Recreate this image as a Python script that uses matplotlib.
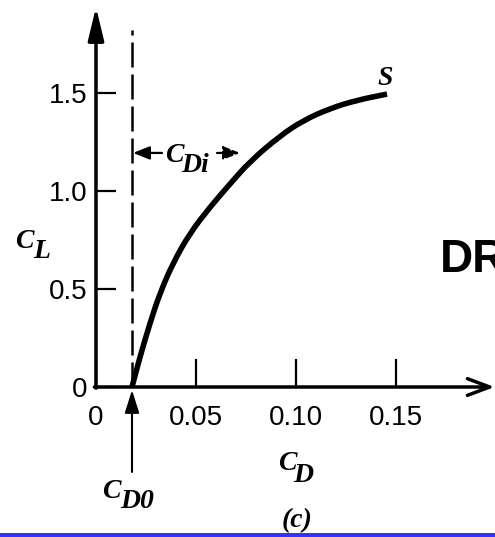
import matplotlib
matplotlib.use('Agg')
import matplotlib.pyplot as plt
from matplotlib.patches import Rectangle, PathPatch
from matplotlib.path import Path

plt.rcParams['font.family'] = ['Liberation Sans', 'DejaVu Sans']

# ---- data ----
cd_curve = [0.018, 0.022, 0.027, 0.032, 0.0385, 0.047, 0.057, 0.067, 0.077,
            0.092, 0.1035, 0.117, 0.1305, 0.1455]
cl_curve = [0.0, 0.154, 0.326, 0.479, 0.632, 0.785, 0.917, 1.035, 1.150,
            1.280, 1.358, 1.420, 1.462, 1.493]
cd0 = 0.018
cdi_level = 1.193
cdi_end = 0.072
dashed_top = 1.82

xticks = [0, 0.05, 0.10, 0.15]
xticklabels = ['0', '0.05', '0.10', '0.15']
yticks = [0, 0.5, 1.0, 1.5]
yticklabels = ['0', '0.5', '1.0', '1.5']

fig = plt.figure(figsize=(4.95, 5.37), dpi=100)
ax = fig.add_axes([0, 0, 1, 1])
ax.set_xlim(-0.048, 0.1995)
ax.set_ylim(-0.7645, 1.9725)

for s in ['top', 'right']:
    ax.spines[s].set_visible(False)
ax.spines['left'].set_position(('data', 0))
ax.spines['bottom'].set_position(('data', 0))
ax.spines['left'].set_visible(False)
ax.spines['bottom'].set_visible(False)

# axes with arrows
ax.annotate('', xy=(0, 1.937), xytext=(0, -0.006), annotation_clip=False,
            arrowprops=dict(arrowstyle='-|>,head_length=1.0,head_width=0.24',
                            mutation_scale=20, lw=2.5, color='black',
                            shrinkA=0, shrinkB=0))
ax.annotate('', xy=(0.1993, 0), xytext=(-0.0008, 0), annotation_clip=False,
            arrowprops=dict(arrowstyle='->,head_length=0.8,head_width=0.3',
                            mutation_scale=20, lw=2.5, color='black',
                            shrinkA=0, shrinkB=0))

ax.set_xticks(xticks, xticklabels)
ax.set_yticks(yticks, yticklabels)
ax.tick_params(axis='x', direction='in', length=20, width=1.6, pad=13,
               labelsize=20, colors='black')
ax.tick_params(axis='y', direction='in', length=14.5, width=1.6, pad=6,
               labelsize=20, colors='black')

# drag polar curve (smooth quadratic path through the read points)
pts = list(zip(cd_curve, cl_curve))
verts = [pts[0], ((pts[0][0] + pts[1][0]) / 2, (pts[0][1] + pts[1][1]) / 2)]
codes = [Path.MOVETO, Path.LINETO]
for i in range(1, len(pts) - 1):
    mid = ((pts[i][0] + pts[i + 1][0]) / 2, (pts[i][1] + pts[i + 1][1]) / 2)
    verts += [pts[i], mid]
    codes += [Path.CURVE3, Path.CURVE3]
verts.append(pts[-1])
codes.append(Path.LINETO)
ax.add_patch(PathPatch(Path(verts, codes), fill=False, lw=4, edgecolor='black',
                       capstyle='butt', joinstyle='round'))

# dashed line at CD0
ax.plot([cd0, cd0], [0, dashed_top], color='black', lw=1.8, dashes=(10, 2.8))

# CD0 arrow
ax.annotate('', xy=(cd0, -0.015), xytext=(cd0, -0.433),
            arrowprops=dict(arrowstyle='-|>,head_length=0.7,head_width=0.22',
                            mutation_scale=20, lw=1.5, color='black',
                            shrinkA=0, shrinkB=0))

# CDi arrows
ax.annotate('', xy=(cd0 + 0.0005, cdi_level), xytext=(0.033, cdi_level),
            arrowprops=dict(arrowstyle='-|>,head_length=0.5,head_width=0.2',
                            mutation_scale=20, lw=1.6, color='black',
                            shrinkA=0, shrinkB=0))
ax.annotate('', xy=(cdi_end, cdi_level), xytext=(0.0605, cdi_level),
            arrowprops=dict(arrowstyle='-|>,head_length=0.5,head_width=0.2',
                            mutation_scale=20, lw=1.6, color='black',
                            linestyle=(0, (3, 1.5)),
                            shrinkA=0, shrinkB=0))

serif = dict(fontfamily=['Liberation Serif', 'DejaVu Serif'], fontstyle='italic',
             fontweight='bold', fontsize=20, ha='left', va='baseline', color='black')

def sub_label(x, y, main, xs, ys, sub):
    ax.text(x, y, main, **serif)
    ax.text(xs, ys, sub, **serif)

sub_label(-0.0405, 0.708, 'C', -0.0315, 0.657, 'L')
sub_label(0.091, -0.423, 'C', 0.0985, -0.484, 'D')
sub_label(0.003, -0.566, 'C', 0.012, -0.617, 'D0')
sub_label(0.0345, 1.147, 'C', 0.0425, 1.096, 'Di')
ax.text(0.1405, 1.539, 'S', **serif)
ax.text(0.1005, -0.712, '(c)', **{**serif, 'ha': 'center'})

ax.text(0.172, 0.586, 'DR', fontsize=33, fontweight='bold', ha='left',
        va='baseline', color='black', fontfamily=['Liberation Sans', 'DejaVu Sans'])

fig.add_artist(Rectangle((0, 0), 1, 4.5 / 537, transform=fig.transFigure,
                         color='#3333FF', lw=0))

fig.savefig('out.png', dpi=100)
